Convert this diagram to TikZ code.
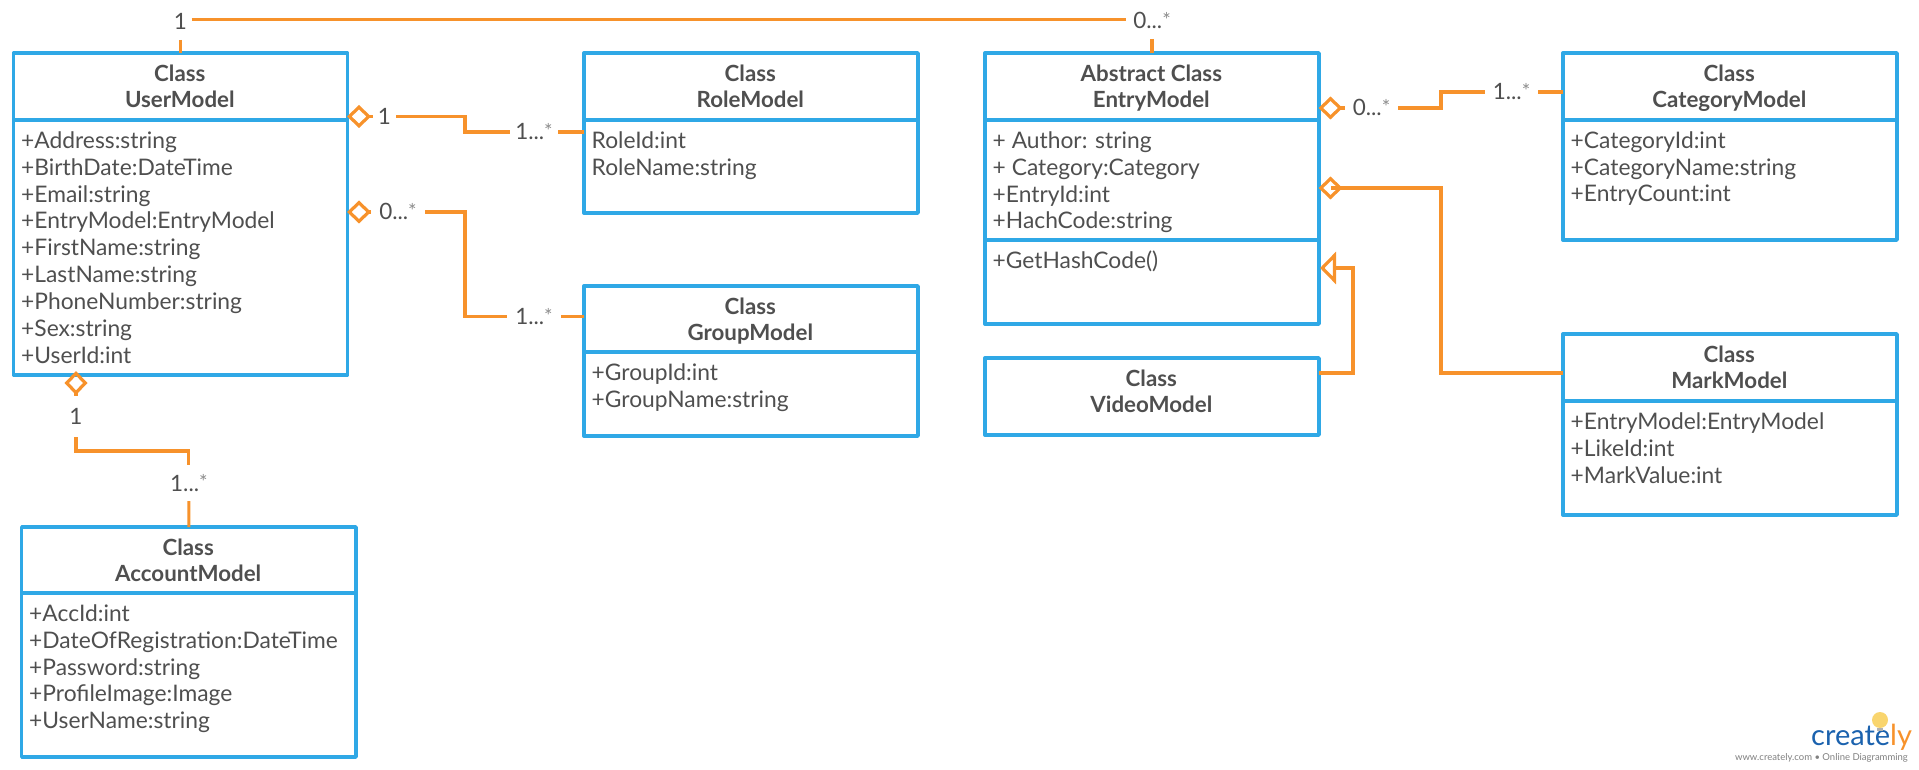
\documentclass[tikz,border=0pt]{standalone}
\usepackage{fontspec}
\setmainfont{Lato}
\usetikzlibrary{arrows.meta,calc}
\definecolor{boxblue}{HTML}{2FA8E6}
\definecolor{linkor}{HTML}{F7922B}
\definecolor{inkgrey}{HTML}{4F4F4F}
\definecolor{stargrey}{HTML}{8A8A8A}
\definecolor{logoblue}{HTML}{1B62AE}
\definecolor{bulb}{HTML}{F9D56E}
\tikzset{
  cbox/.style={draw=boxblue,line width=3.4pt,rectangle,inner sep=0pt,outer sep=0pt,line join=round},
  csep/.style={draw=boxblue,line width=3.4pt},
  ctitle/.style={anchor=north,inner sep=0pt,align=center,text=inkgrey,font=\fontsize{22.3}{26.7}\selectfont\bfseries},
  cattr/.style={anchor=north west,inner sep=0pt,align=left,text=inkgrey,font=\fontsize{22.8}{26.9}\selectfont},
  link/.style={draw=linkor,line width=3.1pt,line join=miter},
  hasa/.style={link,{Diamond[open,length=24pt,width=23pt,line width=3.2pt]}-},
  isa/.style={link,-{Triangle[open,length=16pt,width=32pt,line width=3.2pt]}},
  mult/.style={inner sep=0pt,outer sep=0pt,text=inkgrey,font=\fontsize{22.5}{24}\selectfont,text height=16pt,text depth=0pt,align=center},
}
\newcommand{\ls}{\rule{0pt}{18pt}}
\newcommand{\st}{\raisebox{1.5pt}{\fontsize{20}{20}\selectfont\color{stargrey}*}}
% name, x1, y1, x2, y2, title
\newcommand{\clsbox}[6]{%
  \node[cbox,minimum width={#4-#2},minimum height={#5-#3}] (#1) at ({(#2+#4)/2},{(#3+#5)/2}) {};
  \node[ctitle] (#1-t) at ({(#2+#4)/2-0.7},#3+10) {\ls #6};
}
\newcommand{\clsattr}[4]{% name, x, ysep, lines
  \draw[csep] (#1.west |- 0,#3) -- (#1.east |- 0,#3);
  \node[cattr] (#1-a) at (#2-1,#3+10) {\ls #4};
}
\begin{document}
\begin{tikzpicture}[x=1pt,y=-1pt]
\useasboundingbox (0,0) rectangle (1919,770);
% classes
\clsbox{user}{13.5}{53}{347.5}{375}{Class\\UserModel}
\clsattr{user}{22}{120}{+Address:string\\+BirthDate:DateTime\\+Email:string\\+EntryModel:EntryModel\\+FirstName:string\\+LastName:string\\+PhoneNumber:string\\+Sex:string\\+UserId:int}
\clsbox{role}{584}{53}{918}{213}{Class\\RoleModel}
\clsattr{role}{592.5}{120}{RoleId:int\\RoleName:string}
\clsbox{group}{584}{286}{918}{436}{Class\\GroupModel}
\clsattr{group}{592.5}{352}{+GroupId:int\\+GroupName:string}
\clsbox{entry}{985}{53}{1319}{324}{Abstract Class\\EntryModel}
\clsattr{entry}{993.5}{120}{+ Author: string\\+ Category:Category\\+EntryId:int\\+HachCode:string}
\clsattr{entry}{993.5}{240}{+GetHashCode()}
\clsbox{video}{985}{358}{1319}{435}{Class\\VideoModel}
\clsbox{cat}{1563}{53}{1897}{240}{Class\\CategoryModel}
\clsattr{cat}{1571.5}{120}{+CategoryId:int\\+CategoryName:string\\+EntryCount:int}
\clsbox{mark}{1563}{334}{1897}{515}{Class\\MarkModel}
\clsattr{mark}{1571.5}{401}{+EntryModel:EntryModel\\+LikeId:int\\+MarkValue:int}
\clsbox{acc}{21.7}{527}{356}{757}{Class\\AccountModel}
\clsattr{acc}{30}{593}{+AccId:int\\+DateOfRegistration:DateTime\\+Password:string\\+ProfileImage:Image\\+UserName:string}
% multiplicity labels (their size is the gap they leave in the connector)
\node[mult,minimum width=22pt,minimum height=37pt] (tl) at (180.5,21.5) {1};
\node[mult,minimum width=52pt,minimum height=36pt] (tr) at (1152,21) {0...\st};
\node[mult,minimum width=23pt,minimum height=24pt] (ur1) at (384.5,116.5) {1};
\node[mult,minimum width=48pt,minimum height=24pt] (ur2) at (534,132) {1...\st};
\node[mult,minimum width=54pt,minimum height=24pt] (ug1) at (398,212) {0...\st};
\node[mult,minimum width=54pt,minimum height=24pt] (ug2) at (534,316.5) {1...\st};
\node[mult,minimum width=24pt,minimum height=41pt] (ua1) at (76,416.5) {1};
\node[mult,minimum width=48pt,minimum height=36pt] (ua2) at (188.9,483) {1...\st};
\node[mult,minimum width=53pt,minimum height=24pt] (ec1) at (1371.5,108) {0...\st};
\node[mult,minimum width=53pt,minimum height=24pt] (ec2) at (1511.5,92) {1...\st};
% bends
\coordinate (topy) at (0,19.5);
\coordinate (b1) at (465,124);
\coordinate (b2) at (465,260);
\coordinate (b3) at (130,451);
\coordinate (b4) at (1441,100);
\coordinate (b5) at (1441,373);
\coordinate (b6) at (1353,373);
\coordinate (b7) at (1353,268);
\coordinate (b8) at (1331,188);
% connectors
\draw[link] (tl.south) -- (user.north);
\draw[link] (topy -| tl.east) -- (topy -| tr.west);
\draw[link] (tr.south) -- (entry.north);
\draw[hasa] ($(ur1.west -| user.east)+(-0.5,0)$) -- (ur1.west);
\draw[link] (ur1.east) -| (b1) |- (ur2.west);
\draw[link] (ur2.east) -- (ur2.east -| role.west);
\draw[hasa] ($(ug1.west -| user.east)+(-0.5,0)$) -- (ug1.west);
\draw[link] (ug1.east) -| (b2) |- (ug2.west);
\draw[link] (ug2.east) -- (ug2.east -| group.west);
\draw[hasa] ($(ua1.north |- user.south)+(0,-4)$) -- (ua1.north);
\draw[link] (ua1.south) |- (b3) -| (ua2.north);
\draw[link] (ua2.south) -- (acc.north);
\draw[hasa] ($(ec1.west -| entry.east)+(-0.5,0)$) -- (ec1.west);
\draw[link] (ec1.east) -| (b4) |- (ec2.west);
\draw[link] (ec2.east) -- (ec2.east -| cat.west);
\draw[hasa] ($(b8 -| entry.east)+(-0.5,0)$) -- (b8) -| (b5) -- (b5 -| mark.west);
\draw[isa] (b6 -| video.east) -- (b6) -- (b7) -- ($(b7 -| entry.east)+(1,0)$);
% logo
\node[anchor=base west,inner sep=0pt,font=\fontsize{29}{29}\selectfont] (logo) at (1811,745) {\textcolor{logoblue}{create}\textcolor{linkor}{ly}};
\fill[bulb] (1880,720) circle (8pt);
\fill[gray!60] (1877,728) rectangle (1883,731);
\node[anchor=base east,inner sep=0pt,text=gray,font=\fontsize{9.5}{12}\selectfont] (logotext) at (1908,760) {www.creately.com • Online Diagramming};
\end{tikzpicture}
\end{document}
